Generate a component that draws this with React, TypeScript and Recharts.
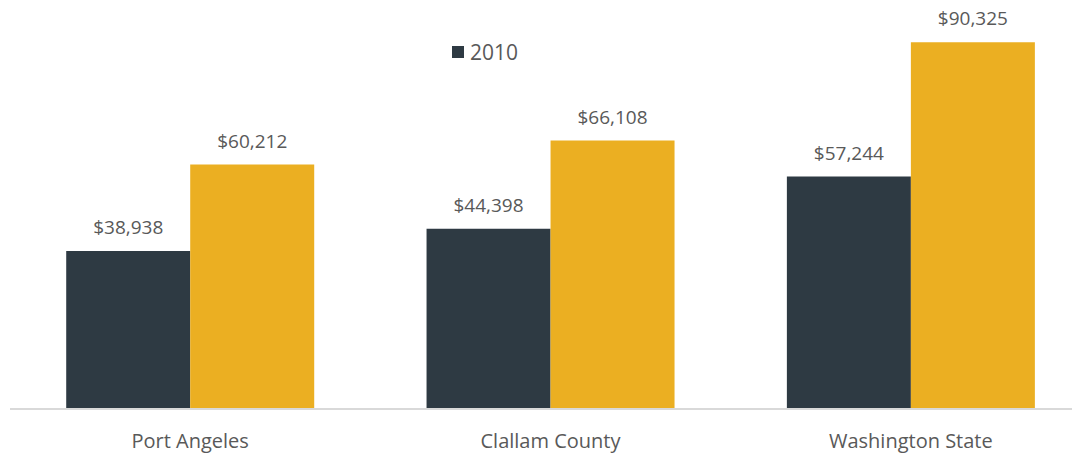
import { Bar, BarChart, LabelList, XAxis, YAxis } from "recharts";

const CATEGORIES = ["Port Angeles", "Clallam County", "Washington State"];
const INCOME_2010 = [38938, 44398, 57244];
const INCOME_LATEST = [60212, 66108, 90325];

const DARK = "#2E3A43";
const GOLD = "#EBAF22";
const TEXT = "#595959";
const FONT = "'Open Sans', sans-serif";

const data = CATEGORIES.map((name, i) => ({
  name,
  y2010: INCOME_2010[i],
  latest: INCOME_LATEST[i],
}));

const money = (v: number) => `$${v.toLocaleString("en-US")}`;

const labelStyle = { fontSize: 19, fill: TEXT, fontFamily: FONT };

export default function App() {
  return (
    <div
      style={{
        position: "relative",
        width: 1080,
        height: 453,
        overflow: "hidden",
        margin: "-8px 0 0 -8px",
        background: "#fff",
      }}
    >
      <BarChart
        width={1092}
        height={453}
        data={data}
        margin={{ top: 3, right: 1, bottom: 0, left: 10 }}
        barCategoryGap="15.6%"
        barGap={0}
      >
        <XAxis
          dataKey="name"
          height={44}
          tickLine={false}
          axisLine={{ stroke: "#D9D9D9", strokeWidth: 2 }}
          tick={{ fontSize: 20, fill: TEXT, fontFamily: FONT }}
          tickMargin={19}
        />
        <YAxis hide domain={[0, 100000]} />
        <Bar dataKey="y2010" name="2010" fill={DARK} isAnimationActive={false}>
          <LabelList dataKey="y2010" position="top" offset={17} formatter={money} style={labelStyle} />
        </Bar>
        <Bar dataKey="latest" name="Latest" fill={GOLD} isAnimationActive={false}>
          <LabelList dataKey="latest" position="top" offset={17} formatter={money} style={labelStyle} />
        </Bar>
      </BarChart>
      {/* legend only lists 2010, as in the source */}
      <div
        style={{
          position: "absolute",
          top: 38,
          left: 452,
          display: "flex",
          alignItems: "center",
          fontFamily: FONT,
          fontSize: 21,
          color: TEXT,
        }}
      >
        <span style={{ width: 12, height: 12, background: DARK, display: "inline-block", marginRight: 6 }} />
        2010
      </div>
    </div>
  );
}
